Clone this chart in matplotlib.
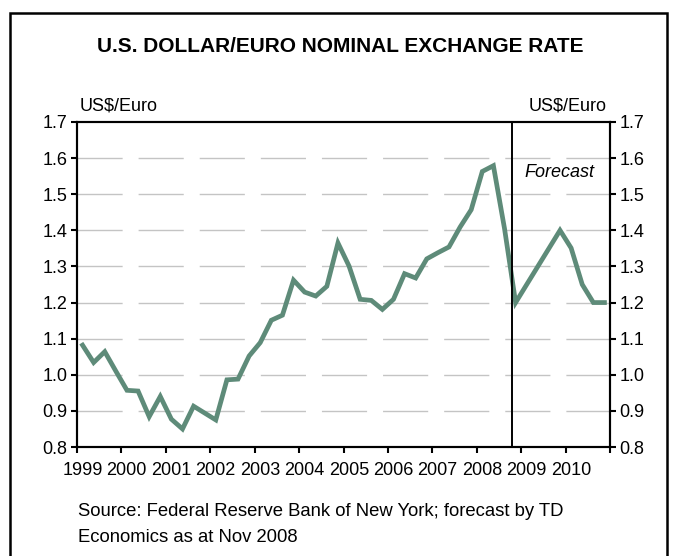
import matplotlib
matplotlib.use("Agg")
import matplotlib.pyplot as plt
import matplotlib.patches as mpatches
import numpy as np

plt.rcParams["font.family"] = ["Liberation Sans", "DejaVu Sans"]

# quarterly US$/Euro, 1999Q1 - 2010Q4 (2008Q4 onward is forecast)
years = list(range(1999, 2011))
rate = [
    1.082, 1.034, 1.064, 1.010,
    0.957, 0.955, 0.884, 0.940,
    0.877, 0.850, 0.913, 0.894,
    0.875, 0.986, 0.988, 1.052,
    1.089, 1.151, 1.165, 1.262,
    1.229, 1.218, 1.245, 1.365,
    1.301, 1.209, 1.206, 1.181,
    1.209, 1.280, 1.268, 1.321,
    1.338, 1.354, 1.409, 1.457,
    1.563, 1.579, 1.405, 1.200,
    1.250, 1.300, 1.350, 1.400,
    1.351, 1.250, 1.200, 1.200,
]
forecast_start = 2008.79
y_ticks = [0.8, 0.9, 1.0, 1.1, 1.2, 1.3, 1.4, 1.5, 1.6, 1.7]

# each quarter plotted at its midpoint
quarter_x = [1999 + (i + 0.5) / 4 for i in range(len(rate))]

fig = plt.figure(figsize=(6.78, 5.56), dpi=100)
ax = fig.add_axes([77 / 678, 109 / 556, 533 / 678, 325 / 556])

ax.plot(quarter_x, rate, color="#5E8B79", lw=3.4, solid_joinstyle="miter", zorder=3)
ax.axvline(forecast_start, color="black", lw=1.4, zorder=4)

ax.set_xlim(1999, 2011)
ax.set_ylim(0.8, 1.7)

for v in y_ticks[1:-1]:
    ax.axhline(v, color="#c4c4c4", lw=1.0, linestyle=(0, (32.5, 11.5)), zorder=1)

fs = 13
ax.set_yticks(y_ticks)
ax.set_yticklabels([f"{v:.1f}" for v in y_ticks])
ax.set_xticks(range(1999, 2012))
ax.set_xticklabels([])
ax.set_xticks([y + 0.12 for y in years], minor=True)
ax.set_xticklabels([str(y) for y in years], minor=True)

ax.tick_params(axis="both", which="major", direction="out", length=4, width=1.5,
               labelsize=fs, pad=3)
ax.tick_params(axis="x", which="minor", length=0, labelsize=fs, pad=11)
ax.tick_params(axis="x", which="major", pad=11)

ax2 = ax.twinx()
ax2.set_ylim(0.8, 1.7)
ax2.set_yticks(y_ticks)
ax2.set_yticklabels([f"{v:.1f}" for v in y_ticks])
ax2.tick_params(axis="y", direction="out", length=4, width=1.5, labelsize=fs, pad=3)

for a in (ax, ax2):
    for s in a.spines.values():
        s.set_linewidth(1.5)
        s.set_color("black")

ax.text(2009.86, 1.56, "Forecast", style="italic", fontsize=fs,
        ha="center", va="center")

fig.text(340 / 678, 1 - 46 / 556, "U.S. DOLLAR/EURO NOMINAL EXCHANGE RATE",
         ha="center", va="center", fontsize=15, fontweight="bold")
fig.text(80 / 678, 1 - 106 / 556, "US$/Euro", ha="left", va="center", fontsize=fs)
fig.text(607 / 678, 1 - 106 / 556, "US$/Euro", ha="right", va="center", fontsize=fs)
fig.text(78 / 678, 1 - 512 / 556, "Source: Federal Reserve Bank of New York; forecast by TD",
         ha="left", va="center", fontsize=13.3)
fig.text(78 / 678, 1 - 538 / 556, "Economics as at Nov 2008",
         ha="left", va="center", fontsize=13.3)

# outer frame, open at the bottom edge
frame = mpatches.Rectangle((10 / 678, -0.1), 657 / 678, 1.1 - 13 / 556,
                           transform=fig.transFigure, fill=False,
                           edgecolor="black", lw=1.8, clip_on=False)
fig.patches.append(frame)

fig.savefig("out.png", dpi=100)
